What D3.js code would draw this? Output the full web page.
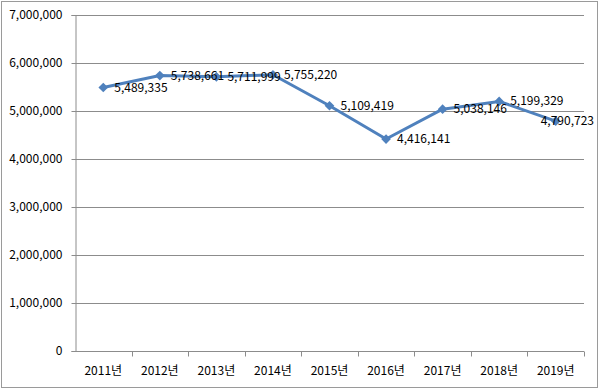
<!DOCTYPE html>
<html>
<head>
<meta charset="utf-8">
<script src="https://cdn.jsdelivr.net/npm/d3@7"></script>
<style>
  html, body { margin: 0; padding: 0; background: #fff; }
  svg { display: block; }
</style>
</head>
<body>
<svg id="chart"></svg>
<script>
(function () {

    var years = ["2011년", "2012년", "2013년", "2014년", "2015년", "2016년", "2017년", "2018년", "2019년"];
    var values = [5489335, 5738661, 5711999, 5755220, 5109419, 4416141, 5038146, 5199329, 4790723];
    var yTicks = [0, 1000000, 2000000, 3000000, 4000000, 5000000, 6000000, 7000000];

    var width = 600;
    var height = 390;
    var left = 75, right = 584, top = 15, bottom = 351;
    var font = "'Noto Sans CJK KR', 'Noto Sans', sans-serif";
    var lineColor = "#4f81bd";

    var svg = d3.select("#chart")
        .attr("width", width)
        .attr("height", height);

    // outer frame
    svg.append("rect")
        .attr("x", 1.5).attr("y", 1.5)
        .attr("width", 596).attr("height", 386)
        .attr("fill", "#fff")
        .attr("stroke", "#9a9a9a")
        .attr("stroke-width", 1);

    var xScale = d3.scaleBand()
        .domain(years)
        .range([left, right]);
    var yScale = d3.scaleLinear()
        .domain([0, 7000000])
        .range([bottom, top]);

    // gridlines
    svg.append("g")
        .selectAll("line")
        .data(yTicks.slice(1))
        .enter()
        .append("line")
        .attr("x1", left)
        .attr("x2", right)
        .attr("y1", d => Math.round(yScale(d)) + 0.5)
        .attr("y2", d => Math.round(yScale(d)) + 0.5)
        .attr("stroke", "#8c8c8c")
        .attr("stroke-width", 1);

    var yAxis = d3.axisLeft(yScale)
        .tickValues(yTicks)
        .tickSize(4)
        .tickPadding(9)
        .tickFormat(d3.format(","));
    var yG = svg.append("g")
        .attr("transform", "translate(" + (left + 0.5) + ",0)")
        .call(yAxis);
    yG.select(".domain").attr("stroke", "#8c8c8c");
    yG.selectAll(".tick line").attr("stroke", "#8c8c8c");
    yG.selectAll(".tick text")
        .attr("fill", "#000")
        .style("font-family", font)
        .style("font-size", "12px");

    // x axis with ticks at category boundaries
    var xG = svg.append("g")
        .attr("transform", "translate(0," + (bottom + 0.5) + ")");
    xG.append("line")
        .attr("x1", left).attr("x2", right)
        .attr("stroke", "#8c8c8c");
    xG.selectAll("line.bound")
        .data(years)
        .enter()
        .append("line")
        .attr("class", "bound")
        .attr("x1", d => Math.round(xScale(d) + xScale.bandwidth()) + 0.5)
        .attr("x2", d => Math.round(xScale(d) + xScale.bandwidth()) + 0.5)
        .attr("y1", 0).attr("y2", 5)
        .attr("stroke", "#8c8c8c");
    xG.selectAll("text")
        .data(years)
        .enter()
        .append("text")
        .attr("x", d => xScale(d) + xScale.bandwidth() / 2)
        .attr("y", 23)
        .attr("text-anchor", "middle")
        .style("font-family", font)
        .style("font-size", "12px")
        .text(d => d);

    var points = years.map((y, i) => ({ year: y, value: values[i] }));
    var cx = d => xScale(d.year) + xScale.bandwidth() / 2;

    svg.append("path")
        .datum(points)
        .attr("d", d3.line().x(cx).y(d => yScale(d.value)))
        .attr("fill", "none")
        .attr("stroke", lineColor)
        .attr("stroke-width", 3)
        .attr("stroke-linejoin", "round");

    svg.selectAll("path.marker")
        .data(points)
        .enter()
        .append("path")
        .attr("class", "marker")
        .attr("d", d3.symbol().type(d3.symbolDiamond2).size(60))
        .attr("transform", d => "translate(" + cx(d) + "," + yScale(d.value) + ")")
        .attr("fill", lineColor);

    // data labels to the right, pushed back inside the frame when they overflow
    svg.selectAll("text.label")
        .data(points)
        .enter()
        .append("text")
        .attr("class", "label")
        .attr("x", d => cx(d) + 11)
        .attr("y", d => yScale(d.value) + 4)
        .style("font-family", font)
        .style("font-size", "12px")
        .attr("fill", "#000")
        .text(d => d3.format(",")(d.value))
        .each(function () {
            var w = this.getComputedTextLength();
            var x = +this.getAttribute("x");
            if (x + w > 594) {
                this.setAttribute("x", 594 - w);
            }
        });

})();
</script>
</body>
</html>
